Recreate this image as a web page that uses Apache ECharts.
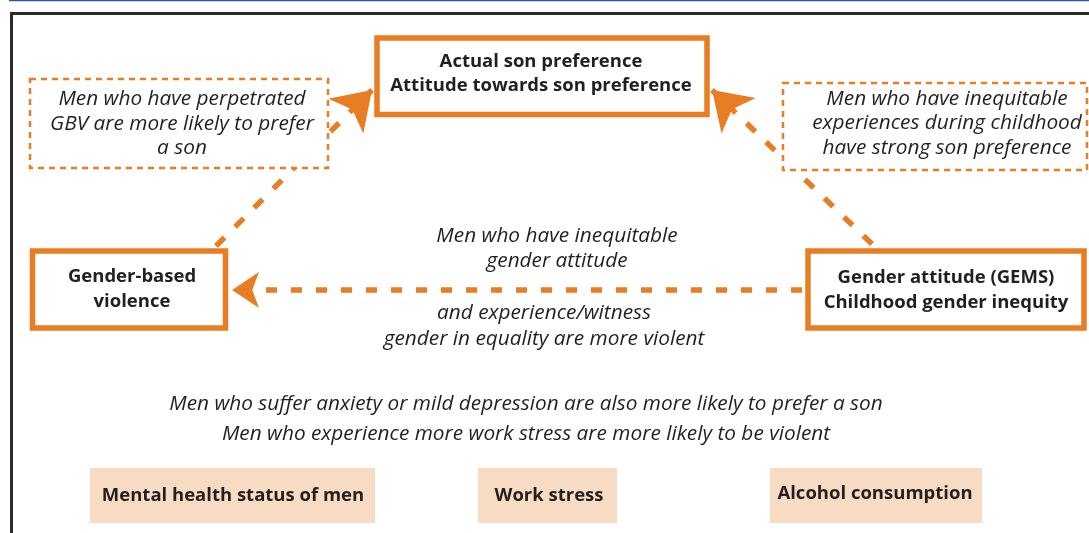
<!DOCTYPE html>
<html>
<head>
<meta charset="utf-8">
<script src="https://cdn.jsdelivr.net/npm/echarts@6/dist/echarts.min.js"></script>
<style>
  html, body { margin: 0; padding: 0; background: #fff; }
  #chart { width: 1089px; height: 533px; }
</style>
</head>
<body>
<div id="chart"></div>
<script>
// diagram content
var mainNodes = ['Actual son preference\nAttitude towards son preference', 'Gender-based\nviolence', 'Gender attitude (GEMS)\nChildhood gender inequity'];
var noteTexts = ['Men who have perpetrated\nGBV are more likely to prefer\na son', 'Men who have inequitable\nexperiences during childhood\nhave strong son preference'];
var linkTexts = ['Men who have inequitable\ngender attitude', 'and experience/witness\ngender in equality are more violent',
  'Men who suffer anxiety or mild depression are also more likely to prefer a son',
  'Men who experience more work stress are more likely to be violent'];
var factors = ['Mental health status of men', 'Work stress', 'Alcohol consumption'];

// layout in pixel units of the hidden axes: [x0, y0, x1, y1, textX, textY]
var mainBoxes = [[377, 38, 707, 114.5, 541, 73.5], [32.5, 251, 225.5, 328, 132, 289], [808, 251, 1084, 328, 946, 290]];
var noteBoxes = [[30, 79, 328, 168, 182, 124], [783, 83, 1087, 170, 947, 123.5]];
var factorBoxes = [[90, 468, 375, 523, 233, 496], [478, 468, 617, 523, 549, 496], [770, 468, 982, 523, 875, 494]];
var linkTextPos = [[557, 248.5], [544, 326], [526, 404], [526, 434]];
// arrows: from -> tip
var diagArrows = [[[216, 246], [372, 90]], [[872, 244], [712, 90]]];
var flatArrows = [[[802, 290], [232, 290]]];

var orange = '#e97d23';
var ink = '#231f20';
var chart = echarts.init(document.getElementById('chart'));

function boxRender(texts, fill, stroke, width, dash, font) {
	return function (params, api) {
		var p0 = api.coord([api.value(0), api.value(1)]);
		var p1 = api.coord([api.value(2), api.value(3)]);
		var t = api.coord([api.value(4), api.value(5)]);
		return {
			type: 'group',
			children: [{
				type: 'rect',
				shape: { x: p0[0], y: p0[1], width: p1[0] - p0[0], height: p1[1] - p0[1] },
				style: { fill: fill, stroke: stroke, lineWidth: width, lineDash: dash }
			}, {
				type: 'text',
				style: {
					text: texts[params.dataIndex], x: t[0], y: t[1],
					align: 'center', verticalAlign: 'middle',
					font: font, fill: ink, lineHeight: 24.5
				}
			}]
		};
	};
}

function textRender(texts, font) {
	return function (params, api) {
		var t = api.coord([api.value(0), api.value(1)]);
		return {
			type: 'text',
			style: {
				text: texts[params.dataIndex], x: t[0], y: t[1],
				align: 'center', verticalAlign: 'middle',
				font: font, fill: ink, lineHeight: 25.5
			}
		};
	};
}

function toLines(list) {
	return list.map(function (a) { return { coords: a }; });
}

var boldFont = 'bold 18.5px "Open Sans"';
var italFont = 'italic 20.8px "Open Sans"';

chart.setOption({
	animation: false,
	grid: { left: 0, right: 0, top: 0, bottom: 0 },
	xAxis: { type: 'value', min: 0, max: 1089, show: false },
	yAxis: { type: 'value', min: 0, max: 533, inverse: true, show: false },
	graphic: [
		{ type: 'line', shape: { x1: 9, y1: 0.5, x2: 1089, y2: 0.5 }, style: { stroke: '#245a9c', lineWidth: 1.5 }, z: 10 },
		{ type: 'polyline', shape: { points: [[11.5, 540], [11.5, 13.5], [1095, 13.5]] }, style: { stroke: '#2b2b2b', lineWidth: 3, fill: null }, z: 10 }
	],
	series: [
		{
			type: 'lines', coordinateSystem: 'cartesian2d', z: 2,
			symbol: ['none', 'arrow'], symbolSize: [30, 37],
			lineStyle: { color: orange, width: 5.5, type: [12, 15], opacity: 1, curveness: 0 },
			data: toLines(diagArrows)
		},
		{
			type: 'lines', coordinateSystem: 'cartesian2d', z: 2,
			symbol: ['none', 'arrow'], symbolSize: [26, 27],
			lineStyle: { color: orange, width: 5.5, type: [11, 14], opacity: 1, curveness: 0 },
			data: toLines(flatArrows)
		},
		{
			type: 'custom', coordinateSystem: 'cartesian2d', z: 3,
			renderItem: boxRender(noteTexts, '#fff', orange, 2.5, [6, 5], italFont),
			data: noteBoxes
		},
		{
			type: 'custom', coordinateSystem: 'cartesian2d', z: 3,
			renderItem: boxRender(mainNodes, '#fff', orange, 5.5, null, boldFont),
			data: mainBoxes
		},
		{
			type: 'custom', coordinateSystem: 'cartesian2d', z: 3,
			renderItem: boxRender(factors, '#f7dcc3', null, 0, null, boldFont),
			data: factorBoxes
		},
		{
			type: 'custom', coordinateSystem: 'cartesian2d', z: 3,
			renderItem: textRender(linkTexts, italFont),
			data: linkTextPos
		}
	]
});
</script>
</body>
</html>
